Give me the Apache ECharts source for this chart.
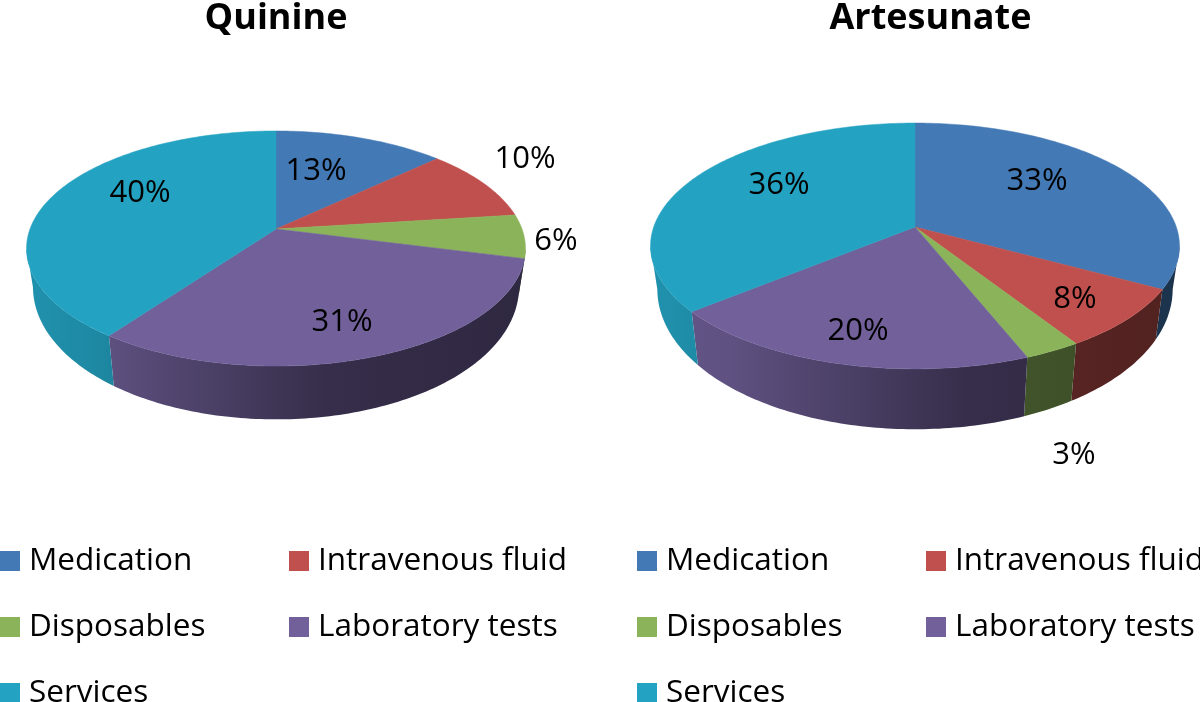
<!DOCTYPE html>
<html>
<head>
<meta charset="utf-8">
<title>Quinine and Artesunate cost shares</title>
<script src="https://cdn.jsdelivr.net/npm/echarts@6/dist/echarts.min.js"></script>
<style>
  html, body { margin: 0; height: 100%; background: #fff; }
  #chart { width: 1200px; height: 702px; }
</style>
</head>
<body>
<div id="chart"></div>
<script>
const pieNames = ["Quinine", "Artesunate"];
const categories = ["Medication", "Intravenous fluid", "Disposables", "Laboratory tests", "Services"];
const quinineValues = [13, 10, 6, 31, 40];
const artesunateValues = [33, 8, 3, 20, 36];
const colors = ["#4379b5", "#c0504d", "#8bb35a", "#71609a", "#24a2c1"];

const font = "'Open Sans', sans-serif";

// perspective disc of each pie, and where its labels sit relative to the centre
const pieLayout = [
  {
    cx: 276, cy: 229, rx: 246, ry: 114.3, k: 0.166, depth: 57.4, shrink: 0.975, taper: 0.62, titleX: 276,
    labelAt: [[40, -58], [249, -70], [280, 12], [66, 93], [-136, -36]]
  },
  {
    cx: 915, cy: 227, rx: 261.3, ry: 120, k: 0.1544, depth: 64.5, shrink: 0.975, taper: 0.62, titleX: 930.5,
    labelAt: [[122, -46], [160, 72], [159, 228], [-57, 104], [-136, -42]]
  }
];

// wall gets darker from left to right
const wallShade = [[0, 0.9], [0.15, 0.84], [0.6, 0.48], [1, 0.42]];

function shadeColor(hex, f) {
  const n = parseInt(hex.slice(1), 16);
  const r = Math.round(((n >> 16) & 255) * f);
  const g = Math.round(((n >> 8) & 255) * f);
  const b = Math.round((n & 255) * f);
  return "rgb(" + r + "," + g + "," + b + ")";
}

// angle in degrees, clockwise from the top of the disc
function project(p, deg, r, depth) {
  const a = (deg * Math.PI) / 180;
  const X = Math.sin(a) * r;
  const Y = -Math.cos(a) * r;
  const w = 1 - p.k * Y;
  const drop = depth * (p.taper + (1 - p.taper) * -Math.cos(a));
  return [p.cx + (p.rx * X) / w, p.cy + (p.ry * Y) / w + drop];
}

function arc(p, from, to, r, depth) {
  const pts = [];
  const steps = Math.max(2, Math.ceil(Math.abs(to - from)));
  for (let i = 0; i <= steps; i++) {
    pts.push(project(p, from + ((to - from) * i) / steps, r, depth));
  }
  return pts;
}

function renderSlice(catIndex) {
  return function(params, api) {
    const p = pieLayout[api.value(0)];
    const value = api.value(2);
    const from = (api.value(1) / 100) * 360;
    const to = from + (value / 100) * 360;
    const color = colors[catIndex];
    const children = [];

    // wall runs between the widest points of the disc outline
    const tangent = (Math.asin(p.k) * 180) / Math.PI;
    const wallFrom = Math.max(from, 90 + tangent);
    const wallTo = Math.min(to, 270 - tangent);
    if (wallTo > wallFrom) {
      const width = p.rx * 2.04;
      children.push({
        type: "polygon",
        z2: 1,
        shape: {
          points: arc(p, wallFrom, wallTo, 1, 0).concat(arc(p, wallTo, wallFrom, p.shrink, p.depth))
        },
        style: {
          fill: {
            type: "linear",
            global: true,
            x: p.cx - width / 2,
            y: 0,
            x2: p.cx + width / 2,
            y2: 0,
            colorStops: wallShade.map(function(s) {
              return { offset: s[0], color: shadeColor(color, s[1]) };
            })
          }
        }
      });
    }

    children.push({
      type: "polygon",
      z2: 2,
      shape: { points: [[p.cx, p.cy]].concat(arc(p, from, to, 1, 0)) },
      style: { fill: color, stroke: color, lineWidth: 0.5 }
    });

    const at = p.labelAt[catIndex];
    children.push({
      type: "text",
      z2: 3,
      x: p.cx + at[0],
      y: p.cy + at[1],
      style: {
        text: value + "%",
        fill: "#000",
        font: "31px " + font,
        align: "center",
        verticalAlign: "middle"
      }
    });

    return { type: "group", children: children };
  };
}

function sliceData(catIndex) {
  return [quinineValues, artesunateValues].map(function(values, pieIndex) {
    let start = 0;
    for (let i = 0; i < catIndex; i++) {
      start += values[i];
    }
    return [pieIndex, start, values[catIndex]];
  });
}

function legendColumn(names, left) {
  return {
    data: names,
    orient: "vertical",
    left: left,
    top: 545,
    height: 200,
    padding: 0,
    icon: "rect",
    itemWidth: 20,
    itemHeight: 20,
    itemGap: 34,
    selectedMode: false,
    textStyle: {
      fontFamily: font,
      fontSize: 31.5,
      color: "#000",
      padding: [0, 0, 0, 4]
    }
  };
}

function pieTitle(i) {
  return {
    text: pieNames[i],
    left: pieLayout[i].titleX,
    top: 1,
    padding: 0,
    textAlign: "center",
    textStyle: {
      fontFamily: font,
      fontSize: 36,
      fontWeight: "bold",
      color: "#000"
    }
  };
}

const col1 = [categories[0], categories[2], categories[4]];
const col2 = [categories[1], categories[3]];

const option = {
  animation: false,
  backgroundColor: "#fff",
  title: [pieTitle(0), pieTitle(1)],
  legend: [
    legendColumn(col1, 0),
    legendColumn(col2, 289),
    legendColumn(col1, 637),
    legendColumn(col2, 926)
  ],
  series: categories.map(function(name, i) {
    return {
      type: "custom",
      name: name,
      coordinateSystem: "none",
      silent: true,
      itemStyle: { color: colors[i] },
      data: sliceData(i),
      renderItem: renderSlice(i)
    };
  })
};

const chart = echarts.init(document.getElementById("chart"));
chart.setOption(option);
window.addEventListener("resize", function() {
  chart.resize();
});
</script>
</body>
</html>
